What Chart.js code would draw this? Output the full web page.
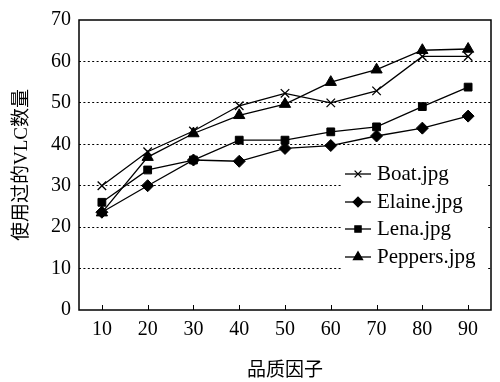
<!DOCTYPE html>
<html>
<head>
<meta charset="utf-8">
<script src="https://cdn.jsdelivr.net/npm/chart.js@4"></script>
<style>
  html, body { margin: 0; padding: 0; background: #fff; }
  #wrap { width: 500px; height: 382px; }
</style>
</head>
<body>
<div id="wrap"><canvas id="chart" width="500" height="382"></canvas></div>
<script>
const qualities = ['10', '20', '30', '40', '50', '60', '70', '80', '90'];
const boat = [30, 38.2, 43.2, 49.3, 52.3, 50, 52.9, 61.2, 61.2];
const elaine = [23.6, 30, 36.2, 35.9, 39, 39.7, 42, 43.9, 46.8];
const lena = [26, 33.8, 36.2, 41, 41, 43, 44.2, 49.1, 53.8];
const peppers = [23.5, 36.9, 42.6, 47, 49.7, 55, 58, 62.7, 63];
const yTicks = [0, 10, 20, 30, 40, 50, 60, 70];

const serif = '"Liberation Serif", "Times New Roman", "Noto Sans CJK SC", serif';

function series(label, data, style, radius) {
  return {
    label: label,
    data: data,
    borderColor: '#000',
    backgroundColor: '#000',
    borderWidth: 1.3,
    pointStyle: style,
    pointRadius: radius,
    pointBorderWidth: style === 'crossRot' ? 1.3 : 1,
    pointBorderColor: '#000',
    pointBackgroundColor: '#000',
    tension: 0
  };
}

// legend inside the plot with a white box, plus the frame and inner ticks
const extras = {
  id: 'extras',
  afterDatasetsDraw(chart) {
    const ctx = chart.ctx;
    const a = chart.chartArea;
    const xs = chart.scales.x;
    ctx.save();
    ctx.strokeStyle = '#000';
    ctx.lineWidth = 1.5;
    ctx.strokeRect(a.left, a.top, a.right - a.left, a.bottom - a.top);
    ctx.lineWidth = 1;
    qualities.forEach((q, i) => {
      const px = Math.round(xs.getPixelForValue(i)) + 0.5;
      ctx.beginPath();
      ctx.moveTo(px, a.bottom);
      ctx.lineTo(px, a.bottom - 5);
      ctx.stroke();
    });

    // legend
    const lx = 342, ly = 162, lw = 146, lh = 110;
    ctx.fillStyle = '#fff';
    ctx.fillRect(lx, ly, lw, lh);
    const rows = [174, 202, 229, 257];
    chart.data.datasets.forEach((ds, i) => {
      const y = rows[i];
      ctx.strokeStyle = '#000';
      ctx.lineWidth = 1.3;
      ctx.beginPath();
      ctx.moveTo(345, y);
      ctx.lineTo(371, y);
      ctx.stroke();
      Chart.helpers.drawPoint(ctx, {
        pointStyle: ds.pointStyle,
        radius: ds.pointRadius * 0.8,
        borderWidth: ds.pointBorderWidth,
        rotation: 0
      }, 358, y);
      ctx.fillStyle = '#000';
      ctx.font = '21px ' + serif;
      ctx.textAlign = 'left';
      ctx.textBaseline = 'middle';
      ctx.fillText(ds.label, 377, y);
    });
    ctx.restore();
  }
};

new Chart(document.getElementById('chart'), {
  type: 'line',
  data: {
    labels: qualities,
    datasets: [
      series('Boat.jpg', boat, 'crossRot', 6),
      series('Elaine.jpg', elaine, 'rectRot', 6),
      series('Lena.jpg', lena, 'rect', 5.5),
      series('Peppers.jpg', peppers, 'triangle', 6.5)
    ]
  },
  options: {
    responsive: false,
    animation: false,
    layout: { padding: { top: 15, right: 9, left: 11, bottom: 0 } },
    plugins: {
      legend: { display: false },
      tooltip: { enabled: false }
    },
    scales: {
      x: {
        type: 'category',
        offset: true,
        grid: { display: false },
        border: { display: false },
        ticks: {
          color: '#000',
          font: { family: serif, size: 20 },
          padding: 0,
          maxRotation: 0
        },
        title: {
          display: true,
          text: '品质因子',
          color: '#000',
          font: { family: serif, size: 19 },
          padding: { top: 16, bottom: 0 }
        },
        afterFit(scale) { scale.height = 72; }
      },
      y: {
        min: 0,
        max: 70,
        afterBuildTicks(scale) { scale.ticks = yTicks.map(v => ({ value: v })); },
        grid: {
          color: ctx => (ctx.tick && (ctx.tick.value === 0 || ctx.tick.value === 70)) ? 'rgba(0,0,0,0)' : '#000',
          lineWidth: 1,
          drawTicks: false
        },
        border: { display: false, dash: [2, 2.4] },
        ticks: {
          color: '#000',
          font: { family: serif, size: 20 },
          padding: 8
        },
        title: {
          display: true,
          text: '使用过的VLC数量',
          color: '#000',
          font: { family: serif, size: 19 },
          padding: { top: 0, bottom: 6 }
        },
        afterFit(scale) { scale.width = 68; }
      }
    }
  },
  plugins: [extras]
});
</script>
</body>
</html>
